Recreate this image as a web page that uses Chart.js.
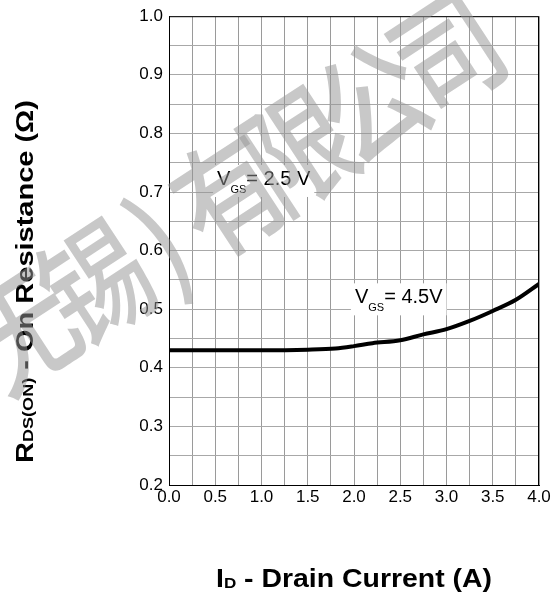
<!DOCTYPE html>
<html>
<head>
<meta charset="utf-8">
<script src="https://cdn.jsdelivr.net/npm/chart.js@4.4.0/dist/chart.umd.min.js"></script>
<style>
  html, body { margin: 0; padding: 0; background: #fff; }
  #wrap { width: 559px; height: 600px; position: relative; }
</style>
</head>
<body>
<div id="wrap"><canvas id="rdsChart" width="559" height="600"></canvas></div>
<script>
// drain current (A) and on resistance (ohm), VGS = 4.5V
const drainCurrent = [0, 0.5, 1.0, 1.5, 1.8, 2.0, 2.2, 2.5, 2.75, 3.0, 3.25, 3.5, 3.75, 4.0];
const onResistance = [0.43, 0.43, 0.43, 0.431, 0.433, 0.437, 0.442, 0.447, 0.457, 0.466, 0.48, 0.497, 0.516, 0.543];

const xTicks = [0, 0.5, 1.0, 1.5, 2.0, 2.5, 3.0, 3.5, 4.0];
const yTicks = [0.2, 0.3, 0.4, 0.5, 0.6, 0.7, 0.8, 0.9, 1.0];

// curve labels: [x, y (baseline), value text]
const curveLabels = [
  [0.52, 0.712, "= 2.5 V"],
  [2.01, 0.51, "= 4.5V"]
];

const watermark = ["无", "锡", ")", "有", "限", "公", "司"];
const watermarkStep = [0, 88, 164, 247, 330, 417, 508]; // distance along the slant

const FONT = '"Liberation Sans", Arial, sans-serif';

// draws a list of text runs in a row, stretched to a target length
function drawRuns(ctx, runs, x, y, targetLen, angle) {
  ctx.save();
  ctx.translate(x, y);
  if (angle) ctx.rotate(angle);
  let total = 0;
  runs.forEach(r => { ctx.font = r.font; total += ctx.measureText(r.text).width; });
  if (targetLen) ctx.scale(targetLen / total, 1);
  ctx.fillStyle = "#000";
  ctx.textBaseline = "alphabetic";
  ctx.textAlign = "left";
  let pos = 0;
  runs.forEach(r => {
    ctx.font = r.font;
    ctx.fillText(r.text, pos, r.dy || 0);
    pos += ctx.measureText(r.text).width;
  });
  ctx.restore();
}

const extras = {
  id: "extras",
  beforeDatasetsDraw(chart) {
    const ctx = chart.ctx;
    const xs = chart.scales.x, ys = chart.scales.y;
    curveLabels.forEach(l => {
      const px = xs.getPixelForValue(l[0]);
      const py = ys.getPixelForValue(l[1]);
      ctx.font = "20px " + FONT;
      let w = ctx.measureText("V").width + ctx.measureText(l[2]).width;
      ctx.font = "11px " + FONT;
      w += ctx.measureText("GS").width;
      ctx.fillStyle = "#fff";
      ctx.fillRect(px - 4, py - 20, w + 8, 32);
      drawRuns(ctx, [
        { text: "V", font: "20px " + FONT },
        { text: "GS", font: "11px " + FONT, dy: 8 },
        { text: l[2], font: "20px " + FONT }
      ], px, py);
    });
  },
  afterDraw(chart) {
    const ctx = chart.ctx;
    const a = chart.chartArea;
    ctx.save();
    ctx.strokeStyle = "#000";
    ctx.lineWidth = 1;
    ctx.strokeRect(a.left + 0.5, a.top + 0.5, a.right - a.left - 1, a.bottom - a.top);
    ctx.restore();

    // axis titles with subscripts
    drawRuns(ctx, [
      { text: "I", font: "bold 25px " + FONT },
      { text: "D", font: "bold 15px " + FONT, dy: 1 },
      { text: " - Drain Current (A)", font: "bold 25px " + FONT }
    ], 216, 587, 276);
    drawRuns(ctx, [
      { text: "R", font: "bold 24px " + FONT },
      { text: "DS(ON)", font: "bold 15px " + FONT, dy: 0 },
      { text: " - On Resistance (Ω)", font: "bold 24px " + FONT }
    ], 33, 463, 363, -Math.PI / 2);

    // watermark
    ctx.save();
    ctx.translate(22, 330);
    ctx.rotate(-33.2 * Math.PI / 180);
    ctx.fillStyle = "rgba(150,150,150,0.52)";
    ctx.font = '500 118px "Noto Sans CJK SC"';
    ctx.textAlign = "center";
    ctx.textBaseline = "middle";
    watermark.forEach((ch, i) => {
      ctx.save();
      ctx.translate(watermarkStep[i], 0);
      ctx.scale(0.88, 1.05);
      ctx.fillText(ch, 0, 0);
      ctx.restore();
    });
    ctx.restore();
  }
};

new Chart("rdsChart", {
  type: "line",
  data: {
    datasets: [{
      data: drainCurrent.map((x, i) => ({ x: x, y: onResistance[i] })),
      borderColor: "#000",
      borderWidth: 4,
      pointRadius: 0,
      cubicInterpolationMode: "monotone",
      fill: false
    }]
  },
  options: {
    responsive: false,
    animation: false,
    layout: { padding: { top: 13, right: 20, left: 0, bottom: 0 } },
    plugins: { legend: { display: false }, tooltip: { enabled: false } },
    scales: {
      x: {
        type: "linear",
        min: 0, max: 4,
        afterBuildTicks: axis => {
          axis.ticks = [];
          for (let i = 0; i <= 16; i++) axis.ticks.push({ value: i * 0.25 });
        },
        afterFit: axis => { axis.height = 115; },
        ticks: {
          autoSkip: false,
          maxRotation: 0,
          padding: 2,
          color: "#000",
          font: { family: FONT, size: 17 },
          callback: v => xTicks.some(t => Math.abs(t - v) < 1e-6) ? v.toFixed(1) : ""
        },
        grid: { color: "#9a9a9a", lineWidth: 1, drawTicks: false },
        border: { color: "#000", width: 1 }
      },
      y: {
        type: "linear",
        min: 0.2, max: 1.0,
        afterBuildTicks: axis => {
          axis.ticks = [];
          for (let i = 0; i <= 16; i++) axis.ticks.push({ value: 0.2 + i * 0.05 });
        },
        afterFit: axis => { axis.width = 169; },
        ticks: {
          autoSkip: false,
          padding: 6,
          color: "#000",
          font: { family: FONT, size: 17 },
          callback: v => yTicks.some(t => Math.abs(t - v) < 1e-6) ? v.toFixed(1) : ""
        },
        grid: { color: "#a8a8a8", lineWidth: 1, drawTicks: false },
        border: { color: "#000", width: 1 }
      }
    }
  },
  plugins: [extras]
});
</script>
</body>
</html>
